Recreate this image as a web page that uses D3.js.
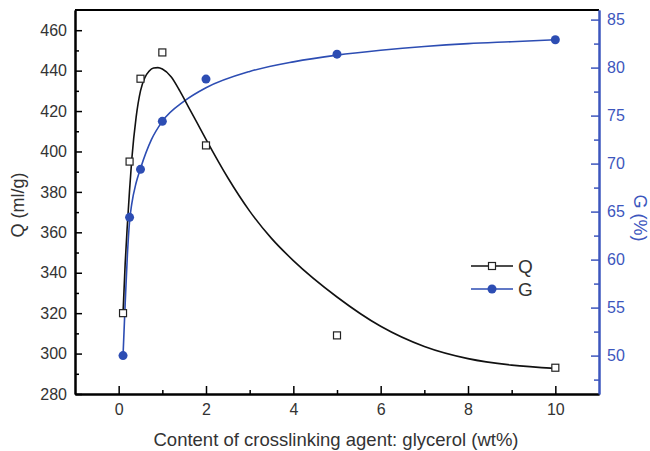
<!DOCTYPE html>
<html>
<head>
<meta charset="utf-8">
<script src="https://cdn.jsdelivr.net/npm/d3@7"></script>
<style>
  body { margin: 0; background: #fff; }
  text { font-family: "Liberation Sans", Arial, sans-serif; }
</style>
</head>
<body>
<div id="chart"></div>
<script>
// measured points
const xVals = [0.1, 0.25, 0.5, 1, 2, 5, 10];
const qVals = [320, 395, 436, 449, 403, 309, 293];
const gVals = [50, 64.4, 69.4, 74.4, 78.8, 81.4, 82.9];

// fitted curves
const qFitX = [0.1, 0.15, 0.2, 0.25, 0.3, 0.4, 0.5, 0.6, 0.7, 0.8, 0.9, 1.0, 1.2, 1.4, 1.6, 1.8, 2, 2.5, 3, 3.5, 4, 5, 6, 7, 8, 9, 10];
const qFitY = [320, 345, 364, 381, 396, 417, 430, 436.5, 439.8, 441.3, 441.5, 440.8, 437, 430, 422, 414, 406, 387, 370.5, 357, 346, 328, 313.5, 303.5, 297.5, 294.3, 292.7];
const gFitX = [0.1, 0.15, 0.2, 0.25, 0.3, 0.4, 0.5, 0.75, 1, 1.5, 2, 3, 4, 5, 6, 7, 8, 9, 10];
const gFitY = [50, 55.5, 60.5, 64, 65.8, 68, 69.5, 72.5, 74.4, 76.5, 77.9, 79.6, 80.6, 81.3, 81.8, 82.2, 82.5, 82.7, 82.9];

const xTicks = [0, 2, 4, 6, 8, 10];
const qTicks = [280, 300, 320, 340, 360, 380, 400, 420, 440, 460];
const gTicks = [50, 55, 60, 65, 70, 75, 80, 85];

// minor ticks
const xMinor = [1, 3, 5, 7, 9];
const qMinor = [290, 310, 330, 350, 370, 390, 410, 430, 450];
const gMinor = [47.5, 52.5, 57.5, 62.5, 67.5, 72.5, 77.5, 82.5];

const width = 650, height = 451;
const plotL = 75, plotR = 599, plotT = 10, plotB = 394;
const blue = '#2d4db3';
const axisBlue = '#3d56bd';

const svg = d3.select('#chart').append('svg')
    .attr('width', width)
    .attr('height', height);

const x = d3.scaleLinear().domain([-1, 11]).range([plotL, plotR]);
const yQ = d3.scaleLinear().domain([280, 470]).range([plotB, plotT]);
const yG = d3.scaleLinear().domain([46, 86]).range([plotB, plotT]);

// top frame line
svg.append('line')
    .attr('x1', plotL).attr('x2', plotR)
    .attr('y1', plotT).attr('y2', plotT)
    .attr('stroke', '#000').attr('stroke-width', 2);

function styleAxis(g, color) {
    g.selectAll('path').attr('stroke', color).attr('stroke-width', 2);
    g.selectAll('line').attr('stroke', color).attr('stroke-width', 1.5);
    g.selectAll('text').attr('fill', color).attr('font-size', 16)
        .attr('font-family', '"Liberation Sans", Arial, sans-serif');
}

svg.append('g').attr('transform', `translate(0,${plotB})`)
    .call(d3.axisBottom(x).tickValues(xMinor).tickSize(-4).tickFormat('').tickSizeOuter(0))
    .call(g => styleAxis(g, '#000'));
svg.append('g').attr('transform', `translate(${plotL},0)`)
    .call(d3.axisLeft(yQ).tickValues(qMinor).tickSize(-4).tickFormat('').tickSizeOuter(0))
    .call(g => styleAxis(g, '#000'));
svg.append('g').attr('transform', `translate(${plotR},0)`)
    .call(d3.axisRight(yG).tickValues(gMinor).tickSize(-5).tickFormat('').tickSizeOuter(0))
    .call(g => styleAxis(g, axisBlue));

// major axes
svg.append('g').attr('transform', `translate(0,${plotB})`)
    .call(d3.axisBottom(x).tickValues(xTicks).tickSize(-8).tickPadding(10).tickSizeOuter(0))
    .call(g => styleAxis(g, '#000'))
    .call(g => g.selectAll('text').attr('fill', '#333'));
svg.append('g').attr('transform', `translate(${plotL},0)`)
    .call(d3.axisLeft(yQ).tickValues(qTicks).tickSize(-7).tickPadding(8).tickSizeOuter(0))
    .call(g => styleAxis(g, '#000'))
    .call(g => g.selectAll('text').attr('fill', '#333'));
svg.append('g').attr('transform', `translate(${plotR},0)`)
    .call(d3.axisRight(yG).tickValues(gTicks).tickSize(-8).tickPadding(8).tickSizeOuter(0))
    .call(g => styleAxis(g, axisBlue));

// axis titles
svg.append('text')
    .attr('x', 336).attr('y', 446)
    .attr('text-anchor', 'middle')
    .attr('font-size', 18.5).attr('fill', '#333')
    .text('Content of crosslinking agent: glycerol (wt%)');

svg.append('text')
    .attr('transform', 'translate(24,205) rotate(-90)')
    .attr('text-anchor', 'middle')
    .attr('font-size', 18).attr('fill', '#333')
    .text('Q (ml/g)');

svg.append('text')
    .attr('transform', 'translate(634,218) rotate(90)')
    .attr('text-anchor', 'middle')
    .attr('font-size', 18).attr('fill', axisBlue)
    .text('G (%)');

// curves
const qLine = d3.line().x(d => x(d[0])).y(d => yQ(d[1])).curve(d3.curveMonotoneX);
const gLine = d3.line().x(d => x(d[0])).y(d => yG(d[1])).curve(d3.curveMonotoneX);

svg.append('path')
    .datum(d3.zip(gFitX, gFitY))
    .attr('d', gLine)
    .attr('fill', 'none')
    .attr('stroke', blue)
    .attr('stroke-width', 1.6);

svg.append('path')
    .datum(d3.zip(qFitX, qFitY))
    .attr('d', qLine)
    .attr('fill', 'none')
    .attr('stroke', '#111')
    .attr('stroke-width', 1.6);

// points
const sq = 7;
svg.append('g')
    .selectAll('rect')
    .data(d3.zip(xVals, qVals))
    .enter().append('rect')
    .attr('x', d => x(d[0]) - sq / 2)
    .attr('y', d => yQ(d[1]) - sq / 2)
    .attr('width', sq).attr('height', sq)
    .attr('fill', '#fff')
    .attr('stroke', '#222')
    .attr('stroke-width', 1.2);

svg.append('g')
    .selectAll('circle')
    .data(d3.zip(xVals, gVals))
    .enter().append('circle')
    .attr('cx', d => x(d[0]))
    .attr('cy', d => yG(d[1]))
    .attr('r', 4.5)
    .attr('fill', blue);

// legend
const legend = svg.append('g').attr('transform', 'translate(471,266)');
legend.append('line').attr('x1', 0).attr('x2', 42).attr('y1', 0).attr('y2', 0)
    .attr('stroke', '#111').attr('stroke-width', 1.6);
legend.append('rect').attr('x', 21 - sq / 2).attr('y', -sq / 2)
    .attr('width', sq).attr('height', sq)
    .attr('fill', '#fff').attr('stroke', '#222').attr('stroke-width', 1.2);
legend.append('text').attr('x', 47).attr('y', 7)
    .attr('font-size', 19).attr('fill', '#333').text('Q');

legend.append('line').attr('x1', 0).attr('x2', 42).attr('y1', 23).attr('y2', 23)
    .attr('stroke', blue).attr('stroke-width', 1.6);
legend.append('circle').attr('cx', 21).attr('cy', 23).attr('r', 4.5).attr('fill', blue);
legend.append('text').attr('x', 47).attr('y', 30)
    .attr('font-size', 19).attr('fill', '#333').text('G');
</script>
</body>
</html>
